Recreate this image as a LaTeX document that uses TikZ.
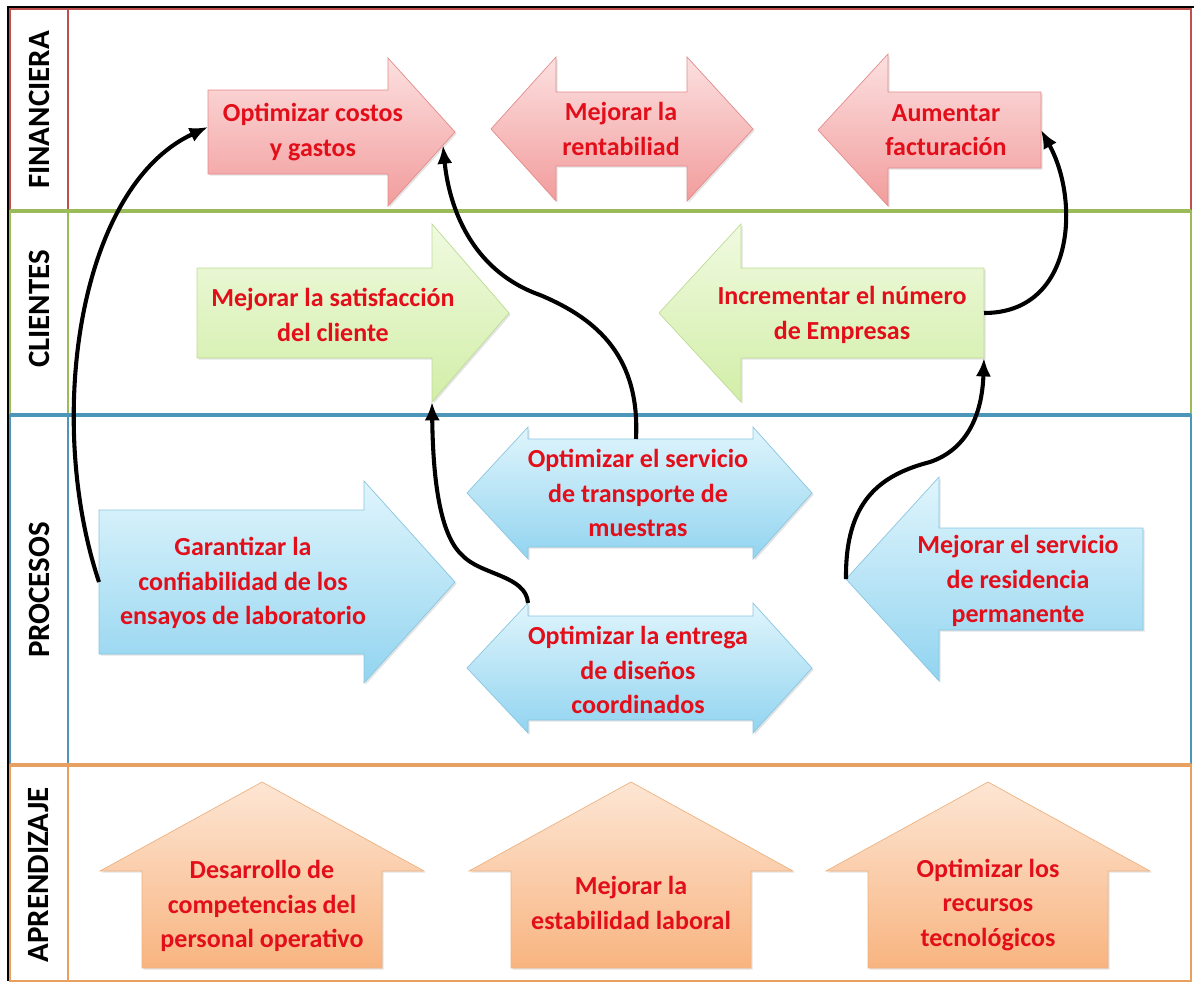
\documentclass[tikz,border=0pt]{standalone}
\usepackage{fontspec}
\setmainfont{Carlito}
\usepackage{tikz}
\usetikzlibrary{arrows.meta,calc,shadows}

\definecolor{txtred}{RGB}{226,14,26}
\definecolor{finline}{RGB}{192,80,77}
\definecolor{cliline}{RGB}{155,187,89}
\definecolor{proline}{RGB}{75,150,185}
\definecolor{aprline}{RGB}{232,160,96}
\definecolor{fintop}{RGB}{252,224,224}
\definecolor{finbot}{RGB}{242,156,156}
\definecolor{finedge}{RGB}{228,140,140}
\definecolor{clitop}{RGB}{240,250,224}
\definecolor{clibot}{RGB}{210,238,168}
\definecolor{cliedge}{RGB}{190,220,150}
\definecolor{protop}{RGB}{224,245,252}
\definecolor{probot}{RGB}{146,212,240}
\definecolor{proedge}{RGB}{138,198,224}
\definecolor{aprtop}{RGB}{253,230,212}
\definecolor{aprbot}{RGB}{248,180,128}
\definecolor{apredge}{RGB}{238,178,128}

\tikzset{
  lane/.style={line width=0.8pt},
  lanetop/.style={line width=2.2pt},
  lanelbl/.style={rotate=90, font=\fontsize{22}{26}\selectfont\bfseries},
  blk/.style={line width=0.5pt, drop shadow={shadow xshift=1.2pt, shadow yshift=-1.2pt, opacity=0.22}},
  finblk/.style={blk, draw=finedge, top color=fintop, bottom color=finbot},
  cliblk/.style={blk, draw=cliedge, top color=clitop, bottom color=clibot},
  problk/.style={blk, draw=proedge, top color=protop, bottom color=probot},
  aprblk/.style={blk, draw=apredge, top color=aprtop, bottom color=aprbot},
  txt/.style={align=center, text=txtred, font=\fontsize{18.5}{24.5}\selectfont\bfseries},
  link/.style={-{Latex[length=4.6mm,width=3.8mm]}, line width=2.9pt, black}
}

\begin{document}
\begin{tikzpicture}[x=0.025cm, y=-0.025cm]
	\useasboundingbox (0,0) rectangle (1194,981);
	% Carriles
		\draw[lane, finline] (10,9) rectangle (1191,211) (68,9) -- (68,211);
		\draw[lane, cliline] (10,211) rectangle (1191,415) (68,211) -- (68,415);
		\draw[lane, proline] (10,415) rectangle (1191,765) (68,415) -- (68,765);
		\draw[lane, aprline] (10,765) rectangle (1191,981) (68,765) -- (68,981);
		\draw[lanetop, cliline] (10,211) -- (1191,211);
		\draw[lanetop, proline] (10,415) -- (1191,415);
		\draw[lanetop, aprline] (10,765) -- (1191,765);
		\draw[line width=1.6pt] (1194,7) -- (8,7) -- (8,981);
		\node[lanelbl] (fin) at (39,110) {FINANCIERA};
		\node[lanelbl] (cli) at (39,309) {CLIENTES};
		\node[lanelbl] (pro) at (39,590) {PROCESOS};
		\node[lanelbl] (apr) at (39,875) {APRENDIZAJE};
	% Financiera
		\draw[finblk] (208,90) coordinate (a1-nw) -- (388,90) -- (388,58) -- (455,132) coordinate (a1-tip)
			-- (388,206) coordinate (a1-hb) -- (388,174) -- (208,174) coordinate (a1-sw) -- cycle;
		\draw[finblk] (491,129) -- (556,57) -- (556,92) -- (687,92) -- (687,57) -- (753,129)
			-- (687,201) -- (687,166) -- (556,166) -- (556,201) -- cycle;
		\draw[finblk] (818,130) -- (888,54) -- (888,92) -- (1041,92) coordinate (a3-ne)
			-- (1041,168) coordinate (a3-se) -- (888,168) -- (888,206) -- cycle;
		\node[txt] (a1) at (313,132) {Optimizar costos\\y gastos};
		\node[txt] (a2) at (621,129) {Mejorar la\\rentabiliad};
		\node[txt] (a3) at (946,130) {Aumentar\\facturación};
	% Clientes
		\draw[cliblk] (197,268) -- (432,268) -- (432,224) -- (509,313) -- (432,402) coordinate (b1-hb)
			-- (432,358) -- (197,358) -- cycle;
		\draw[cliblk] (659,313) -- (741,224) -- (741,268) -- (984,268) coordinate (b2-ne)
			-- (984,358) coordinate (b2-se) -- (741,358) -- (741,402) -- cycle;
		\node[txt] (b1) at (333,315) {Mejorar la satisfacción\\del cliente};
		\node[txt] (b2) at (842,315) {Incrementar el número\\de Empresas};
	% Procesos
		\draw[problk] (99,510) coordinate (c1-nw) -- (364,510) -- (364,481) -- (455,582) -- (364,683)
			-- (364,654) -- (99,654) coordinate (c1-sw) -- cycle;
		\draw[problk] (467,493) -- (528,427) -- (528,439) coordinate (c2-bl) -- (753,439) coordinate (c2-br)
			-- (753,427) -- (812,493) -- (753,559) -- (753,547) -- (528,547) -- (528,559) -- cycle;
		\draw[problk] (467,668) -- (528,603) coordinate (c3-hl) -- (528,616) -- (753,616) -- (753,603)
			-- (812,668) -- (753,733) -- (753,720) -- (528,720) -- (528,733) -- cycle;
		\draw[problk] (846,579) coordinate (c4-tip) -- (939,477) -- (939,528) -- (1143,528) -- (1143,630)
			-- (939,630) -- (939,681) -- cycle;
		\node[txt] (c1) at (243,583) {Garantizar la\\confiabilidad de los\\ensayos de laboratorio};
		\node[txt] (c2) at (638,493) {Optimizar el servicio\\de transporte de\\muestras};
		\node[txt] (c3) at (638,670) {Optimizar la entrega\\de diseños\\coordinados};
		\node[txt] (c4) at (1018,581) {Mejorar el servicio\\de residencia\\permanente};
	% Aprendizaje
		\draw[aprblk] (262,782) -- (424,871) -- (382,871) -- (382,968) -- (142,968) -- (142,871) -- (100,871) -- cycle;
		\draw[aprblk] (631,782) -- (793,871) -- (751,871) -- (751,968) -- (511,968) -- (511,871) -- (469,871) -- cycle;
		\draw[aprblk] (988,782) -- (1150,871) -- (1108,871) -- (1108,968) -- (868,968) -- (868,871) -- (826,871) -- cycle;
		\node[txt] (d1) at (262,906) {Desarrollo de\\competencias del\\personal operativo};
		\node[txt] (d2) at (631,903) {Mejorar la\\estabilidad laboral};
		\node[txt] (d3) at (988,905) {Optimizar los\\recursos\\tecnológicos};
	% Puntos de enlace
		\coordinate (c1-w) at ($(c1-nw)!.5!(c1-sw)$);
		\coordinate (a1-w) at ($(a1-nw)!.44!(a1-sw)$);
		\coordinate (a1-lo) at ($(a1-hb)!.82!(a1-tip)$);
		\coordinate (c2-top) at ($(c2-bl)!.48!(c2-br)$);
		\coordinate (b2-e) at ($(b2-ne)!.5!(b2-se)$);
		\coordinate (a3-e) at ($(a3-ne)!.5!(a3-se)$);
	% Enlaces
		\draw[link] (c1-w) .. controls +(-54,-162) and +(-130,60) .. (a1-w);
		\draw[link] (c3-hl) .. controls +(-2,-28) and +(18,20) .. (462,555)
			.. controls +(-22,-20) and +(1,78) .. (b1-hb);
		\draw[link] (c2-top) .. controls +(4,-80) and +(60,25) .. (540,295)
			.. controls +(-70,-25) and +(6,60) .. (a1-lo);
		\draw[link] (c4-tip) .. controls +(-1,-78) and +(-50,13) .. (930,462)
			.. controls +(35,-12) and +(-2,60) .. (b2-se);
		\draw[link] (b2-e) .. controls +(91,0) and +(39,70) .. (a3-e);
\end{tikzpicture}
\end{document}
